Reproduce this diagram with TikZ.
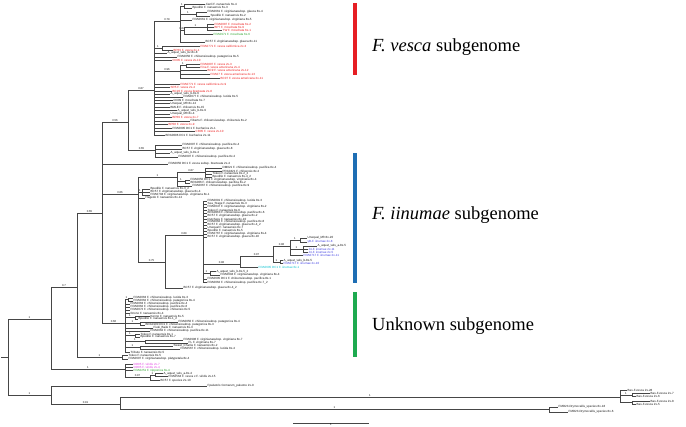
\documentclass[tikz,border=0pt]{standalone}
\usepackage{fontspec}
\setmainfont{Liberation Serif}
\newfontfamily\labf{Liberation Sans}
\definecolor{lc}{RGB}{70,70,70}
\definecolor{lk}{RGB}{20,20,20}
\definecolor{lr}{RGB}{235,25,25}
\definecolor{lg}{RGB}{40,160,40}
\definecolor{lb}{RGB}{60,60,225}
\definecolor{lcy}{RGB}{0,190,205}
\definecolor{lp}{RGB}{225,60,225}
\definecolor{barr}{RGB}{230,30,36}
\definecolor{barb}{RGB}{30,110,180}
\definecolor{barg}{RGB}{30,170,80}
\tikzset{
 br/.style={draw=lc, line width=0.45pt},
 lf/.style={anchor=west, font=\labf\fontsize{3.0}{3}\selectfont, inner xsep=0.5pt, inner ysep=0pt},
 bl/.style={pos=0.75, anchor=south, inner sep=0.4pt, font=\labf\fontsize{2.8}{3}\selectfont, text=lk},
 sg/.style={anchor=west, font=\fontsize{18.5}{20}\selectfont, inner sep=0pt},
}
\newcommand\Nd[5]{\coordinate (#2) at (#3,#4);\draw[br] (#1) |- node[bl]{#5} (#2);}
\newcommand\Lv[6]{\node[lf,text=#5] (#2) at (#3,#4) {#6};\draw[br] (#1) |- (#2);}
\begin{document}
\begin{tikzpicture}[x=1pt,y=-1pt]
\useasboundingbox (0,0) rectangle (686,427);
% ---------- backbone
\coordinate (R0) at (1,357);
\coordinate (R) at (8,357);
\draw[br] (R0) -- (R);
\Nd{R}{A1}{51}{319}{1}
\Nd{R}{O1}{51}{395}{1}
\Nd{A1}{B}{77}{287}{0.7}
\Nd{A1}{VIR}{125}{369}{1}
\Nd{B}{C}{102}{213}{0.65}
\Nd{B}{TK}{122}{357}{1}
\Nd{C}{V}{128}{122}{0.56}
\Nd{C}{I}{138}{194}{0.86}
\Nd{C}{UN}{125}{323}{0.66}
\Lv{C}{fv}{168}{164}{lk}{FRA0050 DC1 F. vesca subsp. bracteata 2x-4}
% ---------- F. vesca clade
\Nd{V}{C1}{154}{90}{0.87}
\Nd{C1}{S1}{180}{21}{0.79}
\Nd{S1}{s1a}{184}{6}{1}
\Lv{s1a}{v1}{205}{4}{lk}{Jianli F. nanaensis 6x-4}
\Lv{s1a}{v2}{192}{8}{lk}{Bpedilio F. nanaensis 6x-3}
\Nd{S1}{s1b}{196}{14}{1}
\Lv{s1b}{v3}{207}{12}{lk}{FRA0661 F. virginianasubsp. glauca 8x-4}
\Lv{s1b}{v4}{210}{16}{lk}{Spedilio F. nanaensis 8x-2}
\Lv{S1}{v5}{192}{20}{lk}{FRA0661 F. virginianasubsp. virginiana 8x-5}
\Nd{S1}{s1c}{184}{30}{0.84}
\Nd{s1c}{s1d}{207}{27}{1}
\Lv{s1d}{v6}{214}{24}{lr}{FRA0087 F. moschata 6x-2}
\Lv{s1d}{v7}{214}{27}{lr}{BP7 F. moschata 6x-9}
\Lv{s1d}{v8}{222}{30}{lr}{TW F. moschata 6x-1}
\Lv{s1c}{v9}{213}{34}{lg}{FRA0971 F. moschata 6x-6}
\Lv{S1}{v10}{205}{42}{lk}{BC57 F. virginianasubsp. glauca 8x-11}
\Nd{C1}{s2}{162}{48}{1}
\Lv{s2}{v11}{200}{46}{lr}{FRA0771 F. vesca californica 2x-3}
\Lv{s2}{v12}{173}{50}{lr}{BP69 F. vesca 2x-1}
\Lv{C1}{v13}{167}{53}{lk}{A\_aquat\_vels\_bv-8x-8}
\Lv{C1}{v14}{177}{57}{lk}{FRA0050 F. chiloensissubsp. patagonica 8x-5}
\Lv{C1}{v15}{172}{60}{lr}{OX05 F. vesca 2x-10}
\Nd{C1}{s3}{180}{71}{0.96}
\Nd{s3}{s3a}{186}{65.5}{1}
\Lv{s3a}{v16}{200}{64}{lr}{FRA0807 F. vesca 2x-3}
\Lv{s3a}{v17}{200}{67}{lr}{Fina F. vesca americana 2x-4}
\Lv{s3}{v18}{207}{70.5}{lr}{BC9 F. vesca americana 2x-12}
\Lv{s3}{v19}{210}{74}{lr}{FRA07 F. vesca americana 2x-13}
\Lv{s3}{v20}{220}{78}{lr}{BC07 F. vesca americana 2x-11}
\Lv{C1}{v21}{180}{84}{lr}{FRA0771 F. vesca californica 2x-9}
\Lv{C1}{v22}{170}{87}{lr}{SR5 F. vesca 2x-4}
\Lv{C1}{v23}{172}{91}{lr}{BC20 F. vesca bracteata 2x-8}
\Lv{C1}{v24}{170}{94}{lk}{A\_aquat\_vels\_b-8x-6}
\Lv{C1}{v25}{183}{97}{lk}{FRA0077 F. chiloensissubsp. lucida 8x-5}
\Lv{C1}{v26}{173}{100}{lk}{OX09 F. moschata 6x-7}
\Lv{C1}{v27}{170}{103.5}{lk}{Unequal\_Mfr 8x-12}
\Lv{C1}{v28}{170}{107}{lk}{BMLE F. chiloensis 8x-15}
\Lv{C1}{v29}{177}{110.5}{lk}{A\_aquat\_vels\_b-8x-9}
\Lv{C1}{v30}{170}{114}{lk}{Unequal\_Mfr 8x-4}
\Lv{C1}{v31}{172}{117.5}{lr}{BP69 F. vesca 2x-7}
\Lv{C1}{v32}{190}{121}{lk}{Fiberts F. chiloensissubsp. chiloensis 8x-2}
\Lv{C1}{v33}{168}{124.5}{lr}{BP08 F. vesca 2x-9}
\Lv{C1}{v34}{172}{128}{lk}{FRA0095 DC1 F. bucharica 2x-1}
\Lv{C1}{v35}{195}{131.5}{lr}{CR05 F. vesca 2x-10}
\Lv{C1}{v36}{165}{135}{lk}{BRA0096 DC1 F. bucharica 2x-11}
\Nd{V}{N65}{155}{150}{0.65}
\Lv{N65}{w1}{182}{145}{lk}{FRA0007 F. chiloensissubsp. pacifica 8x-4}
\Lv{N65}{w2}{182}{149}{lk}{BC57 F. virginianasubsp. glauca 8x-8}
\Lv{N65}{w3}{170}{153}{lk}{A\_aquat\_vels\_b-8x-4}
\Lv{N65}{w4}{178}{157}{lk}{FRA0097 F. chiloensissubsp. pacifica 8x-2}
% ---------- F. iinumae clade
\Nd{I}{I1}{177}{177}{1}
\Nd{I1}{I1a}{205}{172.5}{0.87}
\Lv{I1a}{i1}{222}{168}{lk}{DM021 F. chiloensissubsp. pacifica 8x-4}
\Lv{I1a}{i2}{222}{171}{lk}{PRA0421 F. chiloensis 8x-2}
\Lv{I1a}{i3}{212}{174}{lk}{Tokeo F. nanaensis 8x-2\_2}
\Lv{I1a}{i4}{212}{177}{lk}{Bpedilio F. nanaensis 8x-4\_2}
\Nd{I1}{I1b}{185}{181.5}{1}
\Lv{I1b}{i5}{190}{180}{lk}{FRA0050 DC1 F. virginianasubsp. virginiana 8x-4}
\Lv{I1b}{i6}{190}{183}{lk}{BRA006 F. chiloensissubsp. pacifica 8x-2}
\Lv{I1}{i7}{192}{186}{lk}{FRA0067 F. chiloensissubsp. pacifica 8x-9}
\Nd{I}{I2}{142}{192}{1}
\Lv{I2}{i8}{150}{189}{lk}{Bpedilio F. nanaensis 8x-3\_2}
\Lv{I2}{i9}{150}{192}{lk}{BC57 F. virginianasubsp. glauca 8x-4}
\Lv{I2}{i10}{150}{195}{lk}{FRA0704 F. virginianasubsp. virginiana 8x-1}
\Lv{I}{i11}{145}{198}{lk}{Hagedo F. nanaensis 8x-12}
\Nd{I}{J}{165}{262}{0.75}
\Nd{J}{K}{203}{235}{0.89}
\Lv{K}{k1}{207}{201}{lk}{FRA0091 F. chiloensissubsp. lucida 8x-3}
\Lv{K}{k2}{207}{204}{lk}{Sea\_Stage F. nanaensis 8x-3}
\Lv{K}{k3}{207}{207}{lk}{FRA0047 F. virginianasubsp. virginiana 8x-2}
\Lv{K}{k4}{207}{210}{lk}{Tokeo F. nanaensis 8x-6}
\Lv{K}{k5}{207}{213}{lk}{BRA0063 F. chiloensissubsp. pacifica 8x-6}
\Lv{K}{k6}{207}{216}{lk}{BC57 F. virginianasubsp. glauca 8x-2}
\Lv{K}{k7}{207}{219}{lk}{Dutchess F. nanaensis 8x-10}
\Lv{K}{k8}{207}{222}{lk}{FRA0062 F. chiloensissubsp. pacifica 8x-8}
\Lv{K}{k9}{207}{225}{lk}{BC57 F. virginianasubsp. glauca 8x-4\_2}
\Lv{K}{k10}{207}{228}{lk}{Unequal F. nanaensis 8x-7}
\Lv{K}{k11}{207}{231}{lk}{Bpedilio F. nanaensis 8x-5}
\Lv{K}{k12}{207}{234}{lk}{FRA0767 F. virginianasubsp. virginiana 8x-4}
\Lv{K}{k13}{207}{237}{lk}{BC57 F. virginianasubsp. glauca 8x-10}
\Nd{K}{L1}{240}{264}{0.98}
\Nd{L1}{M}{273}{256}{0.97}
\Nd{M}{N}{290}{246}{0.98}
\Nd{N}{n1}{300}{240}{1}
\Lv{n1}{m1}{307}{238}{lk}{Unequal\_Mfr 8x-20}
\Lv{n1}{m2}{307}{242}{lb}{yB-F. iinumae 2x-8}
\Nd{N}{n2}{303}{249}{1}
\Lv{n2}{m3}{317}{246}{lk}{A\_aquat\_vels\_a-8x-5}
\Lv{n2}{m4}{308}{249}{lb}{J4-F. iinumae 2x-11}
\Lv{n2}{m5}{308}{252}{lb}{J4-F. iinumae 2x-5}
\Lv{N}{m6}{303}{255.5}{lb}{FRA0717 F. iinumae 2x-11}
\Nd{M}{n3}{280}{262}{1}
\Lv{n3}{m7}{283}{260.5}{lk}{A\_aquat\_vels\_b-8x-5}
\Lv{n3}{m8}{283}{263.5}{lb}{FRA0717 F. iinumae 2x-10}
\Lv{L1}{m9}{258}{267}{lcy}{FRA0605 DC1 F. iinumae 6x-1}
\Nd{K}{k14}{210}{273.5}{1}
\Lv{k14}{k15}{216}{271.5}{lk}{A\_aquat\_vels\_b-8x-5\_2}
\Lv{k14}{k16}{220}{275}{lk}{FRA0604 F. virginianasubsp. virginiana 8x-4}
\Lv{K}{k17}{207}{279}{lk}{FRA0605 DC1 F. chiloensissubsp. pacifica 8x-1}
\Lv{K}{k18}{207}{282.5}{lk}{FRA0062 F. chiloensissubsp. pacifica 8x-7\_2}
\Lv{J}{k19}{183}{288}{lk}{BC57 F. virginianasubsp. glauca 8x-4\_2}
% ---------- unknown clade
\Nd{UN}{un1}{128}{299.5}{1}
\Lv{un1}{u1}{133}{298}{lk}{FRA0063 F. chiloensissubsp. lucida 8x-3}
\Lv{un1}{u2}{133}{301}{lk}{FRA0062 F. chiloensissubsp. patagonica 8x-4}
\Lv{UN}{u3}{130}{304}{lk}{FRA0063 F. chiloensissubsp. pacifica 8x-4}
\Lv{UN}{u4}{130}{307}{lk}{FRA0062 F. chiloensissubsp. pacifica 8x-6}
\Lv{UN}{u5}{130}{310}{lk}{FRA0072 F. chiloensissubsp. chiloensis 8x-5}
\Lv{UN}{u6}{130}{313}{lk}{Ibrono F. nanaensis 8x-4}
\Nd{UN}{un2}{135}{317.5}{1}
\Lv{un2}{u7}{150}{316}{lk}{Kenno F. nanaensis 8x-5}
\Lv{un2}{u8}{138}{319}{lk}{Bpedilio F. nanaensis 8x-1\_2}
\Nd{UN}{un3}{140}{323.5}{1}
\Lv{un3}{u9}{178}{322}{lk}{FRA0050 F. chiloensissubsp. patagonica 8x-4}
\Lv{un3}{u10}{145}{325}{lk}{BRA0100 DC1 F. chiloensissubsp. patagonica 8x-3}
\Lv{UN}{u11}{153}{328}{lk}{Fiuki\_Baile F. nanaensis 8x-3}
\Lv{UN}{u12}{150}{331}{lk}{FRA0062 F. chiloensissubsp. pacifica 8x-11}
\Nd{UN}{un4}{135}{335.5}{1}
\Lv{un4}{u13}{140}{334}{lk}{Tokeo F. nanaensis 8x-1}
\Lv{un4}{u14}{140}{337}{lk}{Bpedilio F. nanaensis 8x-7}
\Nd{UN}{un5}{145}{341.5}{1}
\Lv{un5}{u15}{183}{340}{lk}{FRA0996 F. virginianasubsp. virginiana 8x-7}
\Lv{un5}{u16}{188}{343}{lk}{FL F. virginiana 8x-7}
\Nd{UN}{un6}{140}{347.5}{1}
\Lv{un6}{u17}{173}{346}{lk}{Sweet\_Charlie F. nanaensis 8x-2}
\Lv{un6}{u18}{180}{349}{lk}{FRA0567 F. chiloensissubsp. lucida 8x-4}
\Lv{UN}{u19}{130}{352}{lk}{Tribute F. nanaensis 8x-5}
\Lv{TK}{u20}{128}{355}{lk}{Tokeo F. nanaensis 8x-5}
\Lv{TK}{u21}{128}{359}{lk}{FRA0607 F. virginianasubsp. platypetala 8x-4}
% ---------- viridis clade
\Lv{VIR}{x1}{133}{364}{lp}{OD05 F. viridis 2x-7}
\Lv{VIR}{x2}{133}{367}{lp}{OD05 F. viridis 2x-4}
\Lv{VIR}{x3}{133}{370.5}{lg}{FRA0251 F. nipponica 6x-4}
\Nd{VIR}{Q}{150}{377}{0.97}
\Nd{Q}{Q2}{155}{375}{1}
\Lv{Q2}{x4}{163}{373.5}{lk}{A\_aquat\_vels\_a-8x-4}
\Lv{Q2}{x5}{168}{376.5}{lk}{FRA0564 F. vesca x F. viridis 2x-15}
\Lv{Q}{x6}{160}{380.5}{lk}{BC57 F. species 2x-10}
% ---------- outgroups
\Lv{O1}{fp}{207}{386}{lk}{Fpalustris Comarum\_palustre 2x-9}
\Nd{O1}{O2}{120}{404}{0.91}
\Nd{O2}{BAS}{620}{397}{1}
\Lv{BAS}{b1}{627}{390}{lk}{Bas-F.vesca 2x-28}
\Nd{BAS}{BA1}{632}{395}{1}
\Lv{BA1}{b2}{650}{393.5}{lk}{Bas-F.vesca 2x-7}
\Lv{BA1}{b3}{636}{396.5}{lk}{Bas-F.vesca 2x-6}
\Nd{BAS}{BA2}{632}{402.5}{}
\Lv{BA2}{b4}{650}{401}{lk}{Bas-F.vesca 2x-8}
\Lv{BA2}{b5}{636}{404}{lk}{Bas-F.vesca 2x-5}
\Nd{O2}{DRY}{549}{409.5}{1}
\Lv{DRY}{d1}{558}{407}{lk}{FMD23-Drymocallis\_species 8x-18}
\Lv{DRY}{d2}{568}{412}{lk}{FMD23-Drymocallis\_species 8x-6}
% scale bar
\coordinate (sb1) at (293,423);
\coordinate (sb2) at (369,423);
\draw[br] (sb1) -- node[below, inner sep=0.4pt, font=\labf\fontsize{2.8}{3}\selectfont]{1} (sb2);
% ---------- subgenome bars and titles
\node[fill=barr, minimum width=4pt, minimum height=72pt, inner sep=0pt] (rb) at (355,39) {};
\node[fill=barb, minimum width=4pt, minimum height=130pt, inner sep=0pt] (bb) at (355,218) {};
\node[fill=barg, minimum width=4pt, minimum height=65pt, inner sep=0pt] (gb) at (355,324.5) {};
\node[sg] (tv) at (372,47) {\textit{F. vesca} subgenome};
\node[sg] (ti) at (372,215) {\textit{F. iinumae} subgenome};
\node[sg] (tu) at (372,326) {Unknown subgenome};
\end{tikzpicture}
\end{document}
